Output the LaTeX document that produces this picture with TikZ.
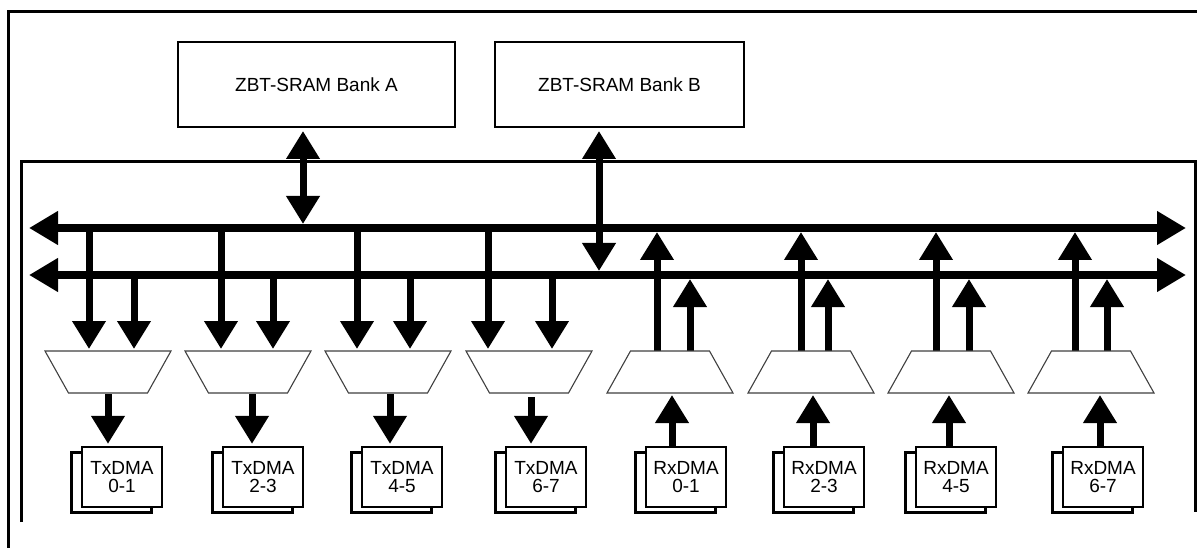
\documentclass[tikz,border=0pt]{standalone}
\usepackage{fontspec}
\setmainfont{Liberation Sans}
\usetikzlibrary{arrows.meta,shadows}
\begin{document}
\begin{tikzpicture}[x=1pt,y=-1pt,
  >={Triangle[width=32pt,length=28pt]},
  frame/.style={line width=3pt},
  bankbox/.style={draw,line width=2pt,minimum height=85pt,inner sep=0pt,font=\fontsize{19}{19}\selectfont},
  dmabox/.style={draw,fill=white,line width=2.2pt,minimum width=80pt,minimum height=60pt,inner sep=0pt,align=center,
     font=\fontsize{19}{17.5}\selectfont,
     copy shadow={shadow xshift=-10.5pt,shadow yshift=-5.5pt,draw=black,fill=white,line width=2.2pt}},
  muxline/.style={draw=black!75,fill=white,line width=1.1pt,line join=miter},
  arr/.style={line width=7pt,->},
  bus/.style={line width=8pt,<->,>={Triangle[width=32pt,length=29pt]}}
]
\useasboundingbox (0,0) rectangle (1197,548);

% frames
\draw[frame] (8,548) -- (8,12) -- (1197,12);
\draw[frame] (21,522) -- (21,162) -- (1195,162) -- (1195,512);

% memory banks
\node[bankbox,minimum width=277pt] (bankA) at (316.5,84.5) {ZBT-SRAM Bank A};
\node[bankbox,minimum width=249pt] (bankB) at (619.5,84.5) {ZBT-SRAM Bank B};

% buses
\coordinate (b1L) at (29,228);  \coordinate (b1R) at (1186,228);
\coordinate (b2L) at (29,275);  \coordinate (b2R) at (1186,275);
\draw[bus] (b1L) -- (b1R);
\draw[bus] (b2L) -- (b2R);

% x positions of vertical connectors
\coordinate (xa) at (303,0);  \coordinate (xb) at (599,0);
\coordinate (t1a) at (89,0);  \coordinate (t1b) at (134,0);
\coordinate (t2a) at (221,0); \coordinate (t2b) at (273,0);
\coordinate (t3a) at (357,0); \coordinate (t3b) at (410,0);
\coordinate (t4a) at (488,0); \coordinate (t4b) at (552,0);
\coordinate (r1a) at (657,0); \coordinate (r1b) at (690,0);
\coordinate (r2a) at (801,0); \coordinate (r2b) at (828,0);
\coordinate (r3a) at (936,0); \coordinate (r3b) at (969,0);
\coordinate (r4a) at (1075,0);\coordinate (r4b) at (1107,0);
\coordinate (td1) at (108,0); \coordinate (td2) at (252,0);
\coordinate (td3) at (390,0); \coordinate (td4) at (531,0);
\coordinate (rd1) at (672,0); \coordinate (rd2) at (813,0);
\coordinate (rd3) at (949,0); \coordinate (rd4) at (1100,0);

% bank connections
\draw[arr,<->,shorten <=3pt,shorten >=4pt] (xa |- bankA.south) -- (xa |- b1L);
\draw[arr,<->,shorten <=3pt,shorten >=4pt] (xb |- bankB.south) -- (xb |- b2L);

% mux anchors (top / bottom)
\foreach \n/\x in {1/108,2/248,3/388,4/529}{
  \coordinate (tx\n) at (\x,372);
  \coordinate (tx\n n) at (\x,351);
  \coordinate (tx\n s) at (\x,393);
}
\foreach \n/\x in {1/670,2/811,3/951,4/1091}{
  \coordinate (rx\n) at (\x,372);
  \coordinate (rx\n n) at (\x,351);
  \coordinate (rx\n s) at (\x,393);
}

% bus -> tx mux
\foreach \m in {1,2,3,4}{
  \draw[arr,shorten >=2pt] (t\m a |- b1L) -- (t\m a |- tx\m n);
  \draw[arr,shorten >=2pt] (t\m b |- b2L) -- (t\m b |- tx\m n);
}
% rx mux -> bus
\foreach \m in {1,2,3,4}{
  \draw[arr,shorten >=4pt] (r\m a |- rx\m n) -- (r\m a |- b1L);
  \draw[arr,shorten >=4pt] (r\m b |- rx\m n) -- (r\m b |- b2L);
}

% multiplexers
\foreach \m in {1,2,3,4}{
  \draw[muxline] (tx\m) ++(-63,-21) -- ++(126,0) -- ++(-23.5,42) -- ++(-79,0) -- cycle;
  \draw[muxline] (rx\m) ++(-39.5,-21) -- ++(79,0) -- ++(23.5,42) -- ++(-126,0) -- cycle;
}

% DMA engines
\node[dmabox] (txd1) at (122,477) {TxDMA\\0-1};
\node[dmabox] (txd2) at (263,477) {TxDMA\\2-3};
\node[dmabox] (txd3) at (402,477) {TxDMA\\4-5};
\node[dmabox] (txd4) at (546,477) {TxDMA\\6-7};
\node[dmabox] (rxd1) at (686,477) {RxDMA\\0-1};
\node[dmabox] (rxd2) at (824,477) {RxDMA\\2-3};
\node[dmabox] (rxd3) at (956,477) {RxDMA\\4-5};
\node[dmabox] (rxd4) at (1103,477) {RxDMA\\6-7};

% mux <-> DMA
\draw[arr,shorten <=1pt,shorten >=2pt] (td1 |- tx1s) -- (td1 |- txd1.north);
\draw[arr,shorten <=1pt,shorten >=2pt] (td2 |- tx2s) -- (td2 |- txd2.north);
\draw[arr,shorten <=1pt,shorten >=2pt] (td3 |- tx3s) -- (td3 |- txd3.north);
\draw[arr,shorten <=4pt,shorten >=2pt] (td4 |- tx4s) -- (td4 |- txd4.north);
\foreach \m in {1,2,3,4}{
  \draw[arr,shorten >=2pt] (rd\m |- rxd\m.north) -- (rd\m |- rx\m s);
}
\end{tikzpicture}
\end{document}
